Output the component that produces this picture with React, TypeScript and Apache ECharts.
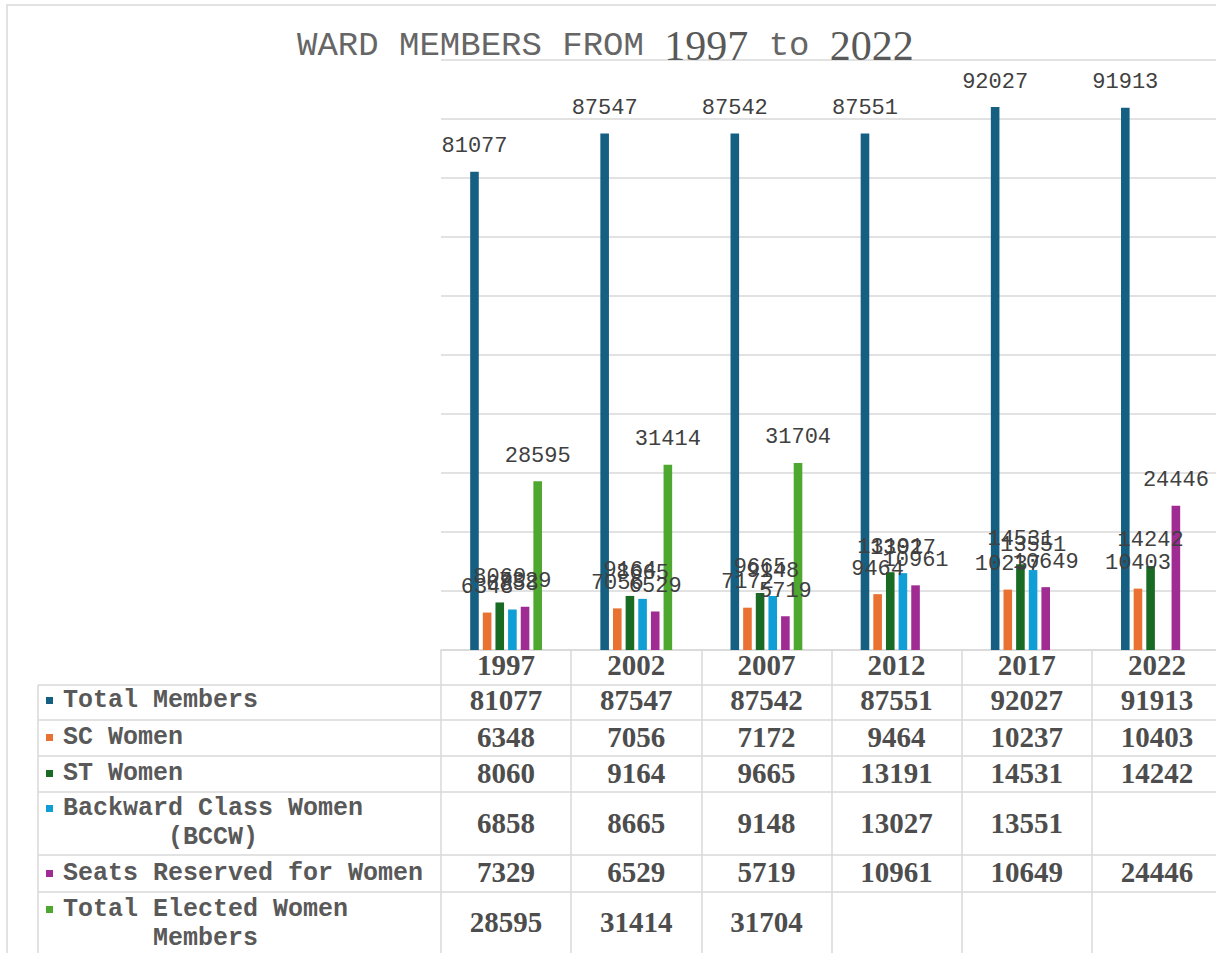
import React, { useEffect, useRef } from "react";
import * as echarts from "echarts";

const years = ["1997", "2002", "2007", "2012", "2017", "2022"];
const totalMembers = [81077, 87547, 87542, 87551, 92027, 91913];
const scWomen = [6348, 7056, 7172, 9464, 10237, 10403];
const stWomen = [8060, 9164, 9665, 13191, 14531, 14242];
const bccwWomen: (number | null)[] = [6858, 8665, 9148, 13027, 13551, null];
const seatsReserved = [7329, 6529, 5719, 10961, 10649, 24446];
const totalElected: (number | null)[] = [28595, 31414, 31704, null, null, null];

const seriesNames = [
  "Total Members",
  "SC Women",
  "ST Women",
  "Backward Class Women (BCCW)",
  "Seats Reserved for Women",
  "Total Elected Women Members",
];
const seriesValues = [totalMembers, scWomen, stWomen, bccwWomen, seatsReserved, totalElected];
const colors = ["#156082", "#E97132", "#196B24", "#0F9ED5", "#A02B93", "#4EA72E"];

// table layout (px)
const AXIS_Y = 650;
const rowCenters = [700, 737, 773, 823, 872, 922];
const rowLines = [685, 720, 756, 792, 855, 892];
const rowLabelLines: string[][] = [
  ["Total Members"],
  ["SC Women"],
  ["ST Women"],
  ["Backward Class Women", "(BCCW)"],
  ["Seats Reserved for Women"],
  ["Total Elected Women", "Members"],
];
const rowLabelY = [700, 737, 773, 808, 873, 909];

export default function App() {
  const ref = useRef<HTMLDivElement>(null);
  useEffect(() => {
    if (!ref.current) return;
    const chart = echarts.init(ref.current, null, { renderer: "svg" });
    const grey = "#d9d9d9";
    const mono = "Liberation Mono";
    const serif = "Liberation Serif";
    const labelFs = 25;

    const xAxes: any[] = [
      {
        type: "category",
        data: years,
        position: "bottom",
        axisLine: { show: true, lineStyle: { color: grey, width: 1.5 } },
        axisTick: { show: true, length: 303, lineStyle: { color: grey, width: 1.5 } },
        axisLabel: {
          interval: 0,
          margin: 15,
          verticalAlign: "middle",
          fontFamily: serif,
          fontWeight: "bold",
          fontSize: 29,
          color: "#4d4d4d",
        },
      },
    ];
    seriesValues.forEach((vals, i) => {
      xAxes.push({
        type: "category",
        data: years,
        position: "bottom",
        offset: rowCenters[i] - AXIS_Y,
        axisLine: { show: false },
        axisTick: { show: false },
        splitLine: { show: false },
        axisLabel: {
          interval: 0,
          margin: 0,
          verticalAlign: "middle",
          fontFamily: serif,
          fontWeight: "bold",
          fontSize: 29,
          color: "#4d4d4d",
          formatter: (_v: string, idx: number) => (vals[idx] == null ? "" : String(vals[idx])),
        },
      });
    });

    const graphic: any[] = [
      {
        type: "rect",
        shape: { x: 7, y: 5, width: 1230, height: 970 },
        style: { fill: "none", stroke: grey, lineWidth: 1.5 },
        silent: true,
      },
      {
        type: "line",
        shape: { x1: 38, y1: 685, x2: 38, y2: 960 },
        style: { stroke: grey, lineWidth: 1.5 },
      },
    ];
    rowLines.forEach((y) => {
      graphic.push({
        type: "line",
        shape: { x1: 38, y1: y, x2: 1230, y2: y },
        style: { stroke: grey, lineWidth: 1.5 },
      });
    });
    rowLabelLines.forEach((lines, i) => {
      const y = rowLabelY[i];
      graphic.push({
        type: "rect",
        shape: { x: 46, y: y - 3, width: 7, height: 7 },
        style: { fill: colors[i] },
      });
      graphic.push({
        type: "text",
        x: 63,
        y: y,
        style: {
          text: lines[0],
          fontFamily: mono,
          fontWeight: "bold",
          fontSize: labelFs,
          fill: "#595959",
          align: "left",
          verticalAlign: "middle",
        },
      });
      if (lines[1]) {
        const w = lines[0].length * 0.6 * labelFs;
        graphic.push({
          type: "text",
          x: 63 + w / 2,
          y: y + 29,
          style: {
            text: lines[1],
            fontFamily: mono,
            fontWeight: "bold",
            fontSize: labelFs,
            fill: "#595959",
            align: "center",
            verticalAlign: "middle",
          },
        });
      }
    });

    chart.setOption({
      animation: false,
      backgroundColor: "#ffffff",
      title: {
        left: 292,
        top: 18,
        text: "{a|WARD MEMBERS FROM }{b|1997}{a| to }{b|2022}",
        textStyle: {
          fontWeight: "normal",
          rich: {
            a: { fontFamily: mono, fontSize: 34, fontWeight: "normal", color: "#666666", lineHeight: 46 },
            b: { fontFamily: serif, fontSize: 42, fontWeight: "normal", color: "#595959", lineHeight: 46 },
          },
        },
      },
      grid: { left: 441, right: 0, top: 60, bottom: 953 - AXIS_Y },
      xAxis: xAxes,
      yAxis: {
        type: "value",
        min: 0,
        max: 100000,
        interval: 10000,
        axisLabel: { show: false },
        axisLine: { show: false },
        axisTick: { show: false },
        splitLine: { lineStyle: { color: grey, width: 1.5 } },
      },
      series: seriesValues.map((vals, i) => ({
        name: seriesNames[i],
        type: "bar",
        xAxisIndex: 0,
        data: vals,
        barWidth: 8.6,
        barGap: "47%",
        itemStyle: { color: colors[i] },
        label: {
          show: true,
          position: "top",
          distance: 14,
          fontFamily: mono,
          fontSize: 22,
          color: "#404040",
        },
      })),
      graphic,
    });
    return () => chart.dispose();
  }, []);
  return (
    <div
      style={{ position: "absolute", left: 0, top: 0, width: 1216, height: 953, overflow: "hidden" }}
    >
      <div ref={ref} style={{ width: 1222, height: 953 }} />
    </div>
  );
}
